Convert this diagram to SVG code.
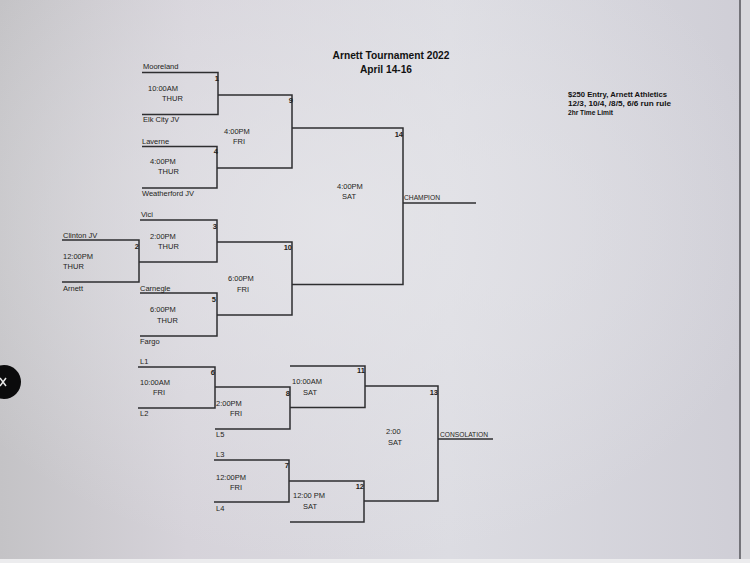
<svg xmlns="http://www.w3.org/2000/svg" width="750" height="563" viewBox="0 0 750 563">
<defs>
<linearGradient id="bg" x1="0" y1="0" x2="1" y2="0">
<stop offset="0" stop-color="#c4c3c6"/>
<stop offset="0.25" stop-color="#d6d3da"/>
<stop offset="0.6" stop-color="#dcdce2"/>
<stop offset="1" stop-color="#cfced6"/>
</linearGradient>
<radialGradient id="glow" cx="0.45" cy="0.4" r="0.6">
<stop offset="0" stop-color="#e6e6ea" stop-opacity="0.8"/>
<stop offset="1" stop-color="#e6e6ea" stop-opacity="0"/>
</radialGradient>
<style>
.ln{stroke:#2e2e30;stroke-width:1.5;fill:none}
.t{font-family:"Liberation Sans",Arial,sans-serif;font-size:7.5px;fill:#1e1e20}
.n{font-family:"Liberation Sans",Arial,sans-serif;font-size:7.5px;fill:#1e1e20;font-weight:bold;text-anchor:end}
.b{font-family:"Liberation Sans",Arial,sans-serif;font-weight:bold;fill:#111}
</style>
</defs>
<rect width="750" height="563" fill="url(#bg)"/>
<rect width="750" height="563" fill="url(#glow)"/>
<rect x="740" y="0" width="10" height="563" fill="#d8d8dc"/>
<line x1="740" y1="0" x2="740" y2="560" stroke="#55555a" stroke-width="1.5"/>
<rect x="0" y="559" width="750" height="4" fill="#ececee"/>
<g id="close-button">
<circle cx="4" cy="382" r="17" fill="#0b0b0c"/>
<path d="M0 378 L6 386 M0 386 L6 378" stroke="#e8e8e8" stroke-width="1.5" fill="none"/>
</g>
<g id="title">
<text class="b" x="391" y="59" font-size="11" text-anchor="middle" textLength="117" lengthAdjust="spacingAndGlyphs">Arnett Tournament 2022</text>
<text class="b" x="386" y="73" font-size="11" text-anchor="middle" textLength="52" lengthAdjust="spacingAndGlyphs">April 14-16</text>
</g>
<g id="notes">
<text class="b" x="568" y="97" font-size="7.5" textLength="99" lengthAdjust="spacingAndGlyphs">$250 Entry, Arnett Athletics</text>
<text class="b" x="568" y="106" font-size="7.5" textLength="103" lengthAdjust="spacingAndGlyphs">12/3, 10/4, /8/5, 6/6  run rule</text>
<text class="b" x="568" y="115" font-size="7.5" textLength="45" lengthAdjust="spacingAndGlyphs">2hr Time Limit</text>
</g>
<g id="connectors">
<path class="ln" d="M142 72.5 H218 V114.5 H142"/>
<path class="ln" d="M142 146.5 H217 V188 H142"/>
<path class="ln" d="M218 95 H292 V168 H217"/>
<path class="ln" d="M292 128 H403 V284.5 H292"/>
<path class="ln" d="M403 203 H476"/>
<path class="ln" d="M62 240 H139 V282 H62"/>
<path class="ln" d="M140 220 H217 V262 H139"/>
<path class="ln" d="M217 242 H292 V315 H217"/>
<path class="ln" d="M140 293 H217 V336 H140"/>
<path class="ln" d="M138 367 H215 V408 H138"/>
<path class="ln" d="M215 387 H290 V429 H215"/>
<path class="ln" d="M290 366 H365 V407.5 H290"/>
<path class="ln" d="M214 460 H289 V502 H214"/>
<path class="ln" d="M289 481 H364 V522 H290"/>
<path class="ln" d="M365 386 H438 V501 H364"/>
<path class="ln" d="M438 439 H493"/>
</g>
<g id="game1">
<text class="t" x="143" y="69">Mooreland</text>
<text class="n" x="219" y="81">1</text>
<text class="t" x="148" y="91">10:00AM</text>
<text class="t" x="162" y="101">THUR</text>
<text class="t" x="143" y="122">Elk City JV</text>
</g>
<g id="game4">
<text class="t" x="142" y="144">Laverne</text>
<text class="n" x="218" y="154">4</text>
<text class="t" x="150" y="164">4:00PM</text>
<text class="t" x="158" y="174">THUR</text>
<text class="t" x="142" y="196">Weatherford JV</text>
</g>
<g id="game9">
<text class="n" x="293" y="103">9</text>
<text class="t" x="224" y="134">4:00PM</text>
<text class="t" x="233" y="144">FRI</text>
</g>
<g id="game14">
<text class="n" x="403" y="137">14</text>
<text class="t" x="337" y="189">4:00PM</text>
<text class="t" x="342" y="199">SAT</text>
<text class="t" x="404" y="200" font-size="7" textLength="36" lengthAdjust="spacingAndGlyphs">CHAMPION</text>
</g>
<g id="game2">
<text class="t" x="63" y="238">Clinton JV</text>
<text class="n" x="139" y="249">2</text>
<text class="t" x="63" y="259">12:00PM</text>
<text class="t" x="63" y="269">THUR</text>
<text class="t" x="63" y="291">Arnett</text>
</g>
<g id="game3">
<text class="t" x="141" y="217">Vici</text>
<text class="n" x="217" y="229">3</text>
<text class="t" x="150" y="239">2:00PM</text>
<text class="t" x="158" y="249">THUR</text>
</g>
<g id="game10">
<text class="n" x="292" y="250">10</text>
<text class="t" x="228" y="281">6:00PM</text>
<text class="t" x="237" y="292">FRI</text>
</g>
<g id="game5">
<text class="t" x="140" y="291">Carnegle</text>
<text class="n" x="216" y="302">5</text>
<text class="t" x="150" y="312">6:00PM</text>
<text class="t" x="157" y="323">THUR</text>
<text class="t" x="140" y="344">Fargo</text>
</g>
<g id="game6">
<text class="t" x="140" y="364">L1</text>
<text class="n" x="215" y="375">6</text>
<text class="t" x="140" y="385">10:00AM</text>
<text class="t" x="153" y="395">FRI</text>
<text class="t" x="140" y="416">L2</text>
</g>
<g id="game8">
<text class="n" x="290" y="396">8</text>
<text class="t" x="216" y="406">2:00PM</text>
<text class="t" x="230" y="416">FRI</text>
<text class="t" x="216" y="437">L5</text>
</g>
<g id="game11">
<text class="n" x="365" y="373">11</text>
<text class="t" x="292" y="384">10:00AM</text>
<text class="t" x="303" y="395">SAT</text>
</g>
<g id="game7">
<text class="t" x="216" y="457">L3</text>
<text class="n" x="289" y="468">7</text>
<text class="t" x="216" y="480">12:00PM</text>
<text class="t" x="230" y="490">FRI</text>
<text class="t" x="216" y="511">L4</text>
</g>
<g id="game12">
<text class="n" x="364" y="489">12</text>
<text class="t" x="293" y="498">12:00 PM</text>
<text class="t" x="303" y="509">SAT</text>
</g>
<g id="game13">
<text class="n" x="438" y="395">13</text>
<text class="t" x="386" y="434">2:00</text>
<text class="t" x="388" y="445">SAT</text>
<text class="t" x="440" y="437" font-size="7" textLength="48" lengthAdjust="spacingAndGlyphs">CONSOLATION</text>
</g>
</svg>
